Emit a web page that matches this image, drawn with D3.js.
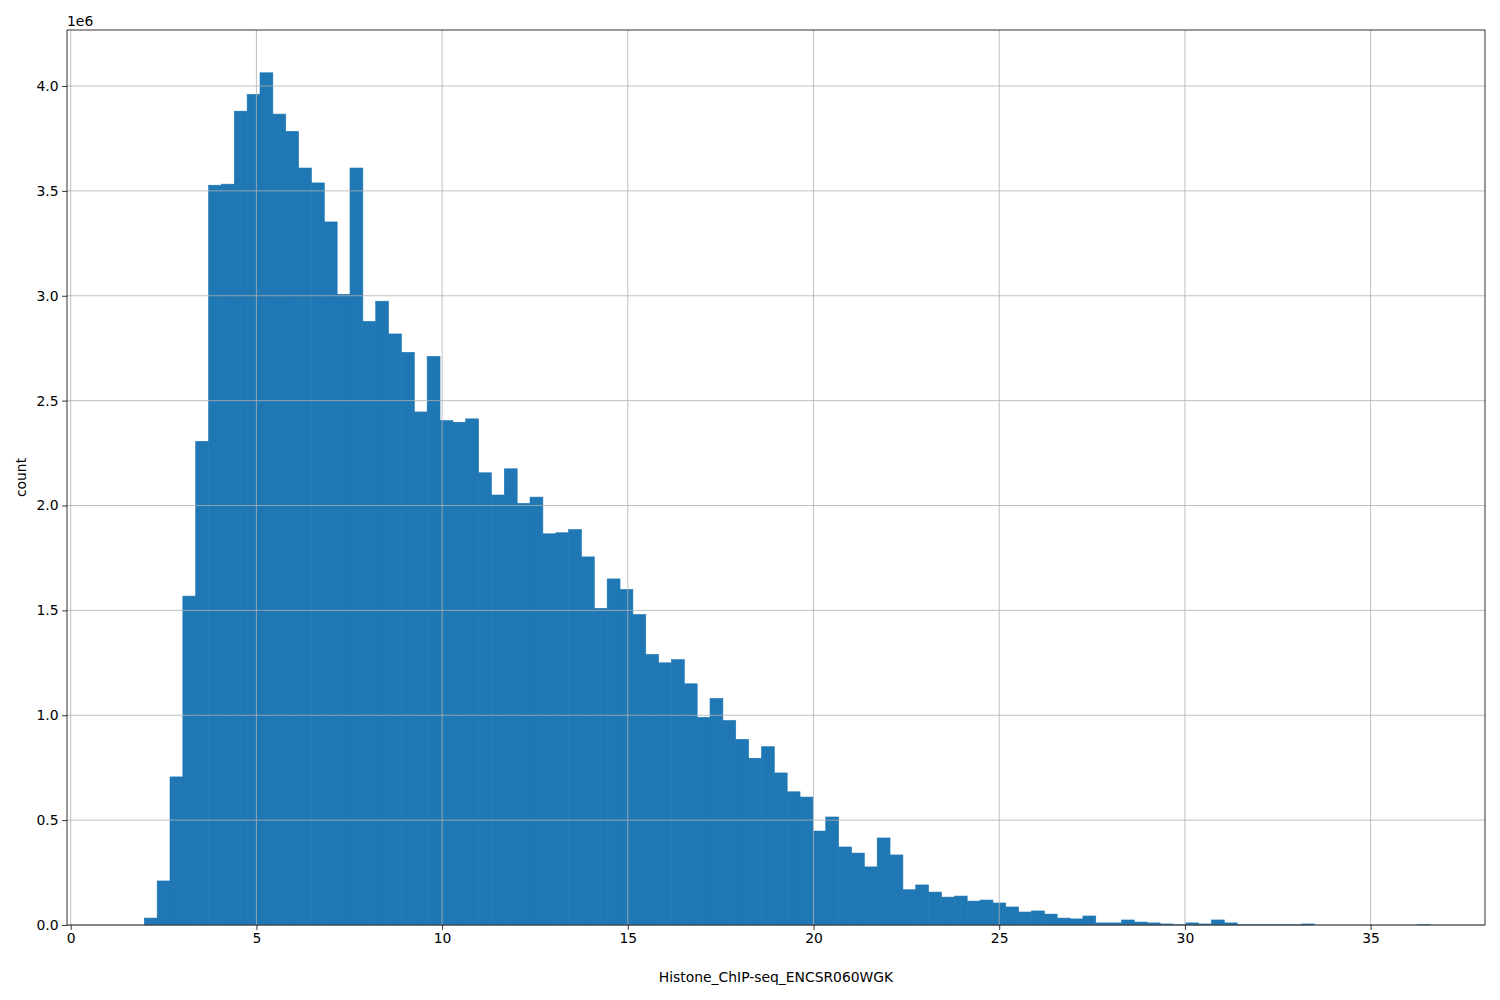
<!DOCTYPE html>
<html><head><meta charset="utf-8">
<script src="https://cdn.jsdelivr.net/npm/d3@7"></script>
<style>body{margin:0;background:#fff}text{font-family:"DejaVu Sans",sans-serif}</style>
</head><body><svg id="chart" width="1500" height="1000"></svg>
<script>
// histogram: first edge, bin width, counts in millions
var binStart = 1.981;
var binWidth = 0.3462;
var counts = [0.033,0.21,0.706,1.568,2.306,3.527,3.532,3.88,3.96,4.063,
  3.866,3.784,3.609,3.538,3.352,3.007,3.609,2.878,2.974,2.818,
  2.73,2.446,2.711,2.405,2.397,2.413,2.156,2.05,2.175,2.01,
  2.04,1.865,1.87,1.885,1.755,1.51,1.65,1.60,1.48,1.29,
  1.25,1.265,1.15,0.99,1.08,0.975,0.885,0.795,0.85,0.725,
  0.635,0.61,0.448,0.515,0.372,0.343,0.277,0.415,0.334,0.168,
  0.191,0.157,0.133,0.138,0.114,0.119,0.105,0.086,0.062,0.067,
  0.052,0.033,0.029,0.043,0.01,0.01,0.024,0.014,0.01,0.005,
  0.001,0.01,0.005,0.024,0.01,0.001,0.001,0.001,0.001,0.001,
  0.005,0,0,0,0,0,0,0,0,0.001];
var xTicks = [0,5,10,15,20,25,30,35];
var yTicks = [0,0.5,1.0,1.5,2.0,2.5,3.0,3.5,4.0];

var svg = d3.select("#chart");
var m = {left:67, right:1485, top:30, bottom:925};
var x = d3.scaleLinear().domain([-0.1, 38.08]).range([m.left, m.right]);
var y = d3.scaleLinear().domain([0, 4.267]).range([m.bottom, m.top]);

svg.append("g").selectAll("rect").data(counts).enter().append("rect")
  .attr("x", (d,i)=>x(binStart + i*binWidth))
  .attr("width", x(binWidth) - x(0))
  .attr("y", d=>y(d))
  .attr("height", d=>y(0) - y(d))
  .attr("fill", "#1f77b4")
  .attr("stroke", "#1f77b4").attr("stroke-width", 0.6);

// matplotlib draws the grid on top of the bars here
var g = svg.append("g");
g.selectAll(".gx").data(xTicks).enter().append("line")
  .attr("x1", d=>x(d)).attr("x2", d=>x(d)).attr("y1", m.top).attr("y2", m.bottom)
  .attr("stroke", "#b0b0b0").attr("stroke-width", 0.8);
g.selectAll(".gy").data(yTicks).enter().append("line")
  .attr("y1", d=>y(d)).attr("y2", d=>y(d)).attr("x1", m.left).attr("x2", m.right)
  .attr("stroke", "#b0b0b0").attr("stroke-width", 0.8);

svg.append("rect").attr("x", m.left).attr("y", m.top)
  .attr("width", m.right-m.left).attr("height", m.bottom-m.top)
  .attr("fill", "none").attr("stroke", "#000").attr("stroke-width", 0.8);

var xa = svg.append("g").attr("transform", "translate(0,"+m.bottom+")")
  .call(d3.axisBottom(x).tickValues(xTicks).tickSize(4.9).tickPadding(3.5).tickFormat(d3.format("d")));
var ya = svg.append("g").attr("transform", "translate("+m.left+",0)")
  .call(d3.axisLeft(y).tickValues(yTicks).tickSize(4.9).tickPadding(3.5).tickFormat(d3.format(".1f")));
[xa, ya].forEach(function(a){
  a.select(".domain").remove();
  a.selectAll("text").attr("font-size", "13.9px").attr("fill", "#000").style("font-family", "DejaVu Sans");
  a.selectAll("line").attr("stroke-width", 0.8);
});

svg.append("text").attr("x", m.left).attr("y", m.top-4).attr("font-size", "13.9px").text("1e6");
svg.append("text").attr("x", (m.left+m.right)/2).attr("y", 982).attr("text-anchor", "middle")
  .attr("font-size", "13.9px").text("Histone_ChIP-seq_ENCSR060WGK");
svg.append("text").attr("transform", "translate(26,"+((m.top+m.bottom)/2)+") rotate(-90)")
  .attr("text-anchor", "middle").attr("font-size", "13.9px").text("count");
</script></body></html>
